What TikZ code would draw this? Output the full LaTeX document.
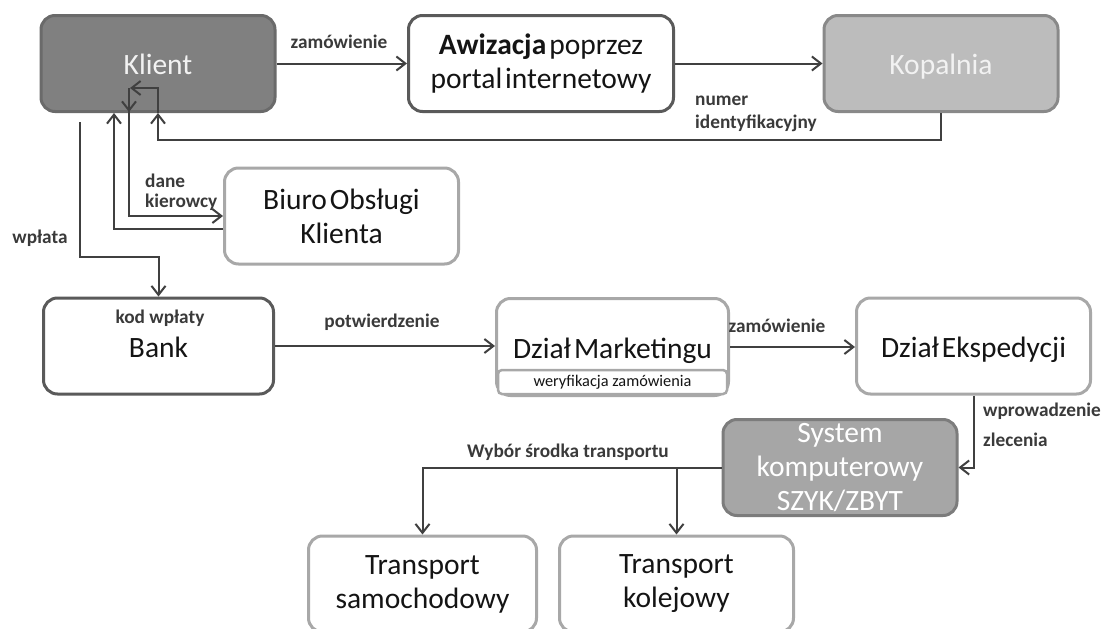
\documentclass[tikz,border=0pt]{standalone}
\usepackage{fontspec}
\setmainfont{Carlito}
\usetikzlibrary{arrows.meta,calc}
\definecolor{darkedge}{HTML}{5A5A5A}
\definecolor{lightedge}{HTML}{A8A8A8}
\definecolor{wire}{HTML}{404040}
\definecolor{labelgrey}{HTML}{3A3A3A}
\definecolor{klientfill}{HTML}{808080}
\definecolor{klientedge}{HTML}{6A6A6A}
\definecolor{kopfill}{HTML}{BCBCBC}
\definecolor{kopedge}{HTML}{898989}
\definecolor{sysfill}{HTML}{A6A6A6}
\definecolor{sysedge}{HTML}{7C7C7C}
% large box text with tight word spacing
\newcommand{\boxfont}{\fontsize{29.5}{34}\selectfont\fontdimen2\font=0.1em}
\tikzset{
  >={Straight Barb[length=9pt,width=14pt]},
  box/.style={rounded corners=14pt, line width=3pt, fill=white, align=center,
    font=\boxfont, text=black!92, inner sep=0pt,
    minimum width=234pt, minimum height=96pt},
  oneline/.style={text height=27pt, text depth=5pt},
  darkbox/.style={box, draw=darkedge},
  lightbox/.style={box, draw=lightedge},
  conn/.style={draw=wire, line width=2pt},
  lbl/.style={font=\fontsize{19.3}{23}\selectfont\bfseries, text=labelgrey, inner sep=0pt},
}
\begin{document}
\begin{tikzpicture}[x=1pt,y=-1pt]
\useasboundingbox (0,0) rectangle (1112,629);
\fill[white] (0,0) rectangle (1112,629);

% boxes
\node[box, oneline, draw=klientedge, fill=klientfill, text=white!95!black] (klient) at (158,63.5) {Klient};
\node[darkbox, minimum width=265pt] (awiz) at (541,63.5) {\textbf{Awizacja} poprzez\\portal internetowy};
\node[box, oneline, draw=kopedge, fill=kopfill, text=white!95!black] (kop) at (941,63.5) {Kopalnia};
\node[lightbox] (biuro) at (341.5,216) {Biuro Obsługi\\Klienta};
\node[darkbox, oneline, minimum width=230pt] (bank) at (158.5,346) {Bank};
\node[lightbox, oneline, minimum width=232pt, minimum height=97pt] (mark) at (612.5,347) {Dział Marketingu};
\node[lightbox, line width=2.5pt, rounded corners=4pt, minimum width=229pt, minimum height=24pt,
      font=\fontsize{16.3}{20}\selectfont] (weryf) at (612.5,382) {weryfikacja zamówienia};
\node[lightbox, oneline] (eksp) at (973.5,346) {Dział Ekspedycji};
\node[box, draw=sysedge, fill=sysfill, text=white] (sys) at (840,467.5) {System\\komputerowy\\SZYK/ZBYT};
\node[lightbox, minimum width=228pt] (tsam) at (422.5,584) {Transport\\samochodowy};
\node[lightbox] (tkol) at (676.5,584) {Transport\\kolejowy};

% connectors
\draw[conn,->] (klient.east) -- (awiz.west);
\draw[conn,->] (awiz.east) -- (kop.west);
\draw[conn,->] (kop.south) -- ++(0,27) -| (klient.south);
\draw[conn,->] (klient.south) -- ++(0,-25) -- ++(-28,0);
\coordinate (dk) at ($(klient.south)+(-29,-25)$);
\draw[conn,->] (dk) -- ++(0,24);
\draw[conn,->] (dk) |- (biuro.west);
\draw[conn,->] ($(biuro.west)+(0,13)$) -| ($(klient.south)+(-44,0)$);
\coordinate (wp) at ($(klient.south)+(-78,9)$);
\draw[conn,->] (wp) -- ++(0,135) -| (bank.north);
\draw[conn,->] (bank.east) -- (bank.east -| mark.west);
\draw[conn,->] (mark.east) -- (mark.east -| eksp.west);
\draw[conn,->] (eksp.south) |- (sys.east);
\draw[conn,->] (sys.west) -| (tsam.north);
\draw[conn,->] (sys.west -| tkol.north) -- (tkol.north);

% labels
\node[lbl] (l1) at (339,42) {zamówienie};
\node[lbl, align=left, anchor=west, font=\fontsize{19.3}{23}\selectfont\bfseries] (l2) at (695,113.5) {numer\\identyfikacyjny};
\node[lbl, align=left, anchor=west, font=\fontsize{19.3}{20}\selectfont\bfseries] (l3) at (145,192) {dane\\kierowcy};
\node[lbl] (l4) at (40,238) {wpłata};
\node[lbl] (l5) at (160,318) {kod wpłaty};
\node[lbl] (l6) at (382,322) {potwierdzenie};
\node[lbl] (l7) at (777,326) {zamówienie};
\node[lbl, align=left, anchor=west, font=\fontsize{19.3}{30}\selectfont\bfseries] (l8) at (983,425) {wprowadzenie\\zlecenia};
\node[lbl] (l9) at (568,452) {Wybór środka transportu};
\end{tikzpicture}
\end{document}
